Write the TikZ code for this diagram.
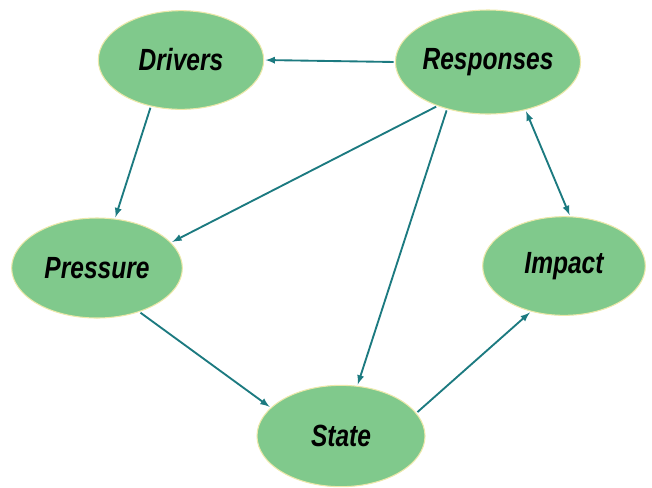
\documentclass[tikz,border=0pt]{standalone}
\usepackage{fontspec}
\usepackage{xcolor}
\usetikzlibrary{shapes.geometric}
\newfontfamily\lblfont[FakeStretch=0.8]{Liberation Sans}

\definecolor{ovalgreen}{RGB}{128,201,140}
\definecolor{ovalrim}{RGB}{236,232,170}
\definecolor{linkteal}{RGB}{28,122,128}

\begin{document}
\begin{tikzpicture}[x=0.75pt,y=-0.75pt,>=latex,
		oval/.style={ellipse, fill=ovalgreen, draw=ovalrim, line width=0.8pt,
			minimum width=124pt, minimum height=74pt, inner sep=0pt,
			font=\lblfont\bfseries\itshape\fontsize{23}{26}\selectfont},
		link/.style={->, linkteal, line width=1.4pt, shorten >=1pt, shorten <=1pt}]
	\useasboundingbox (0,0) rectangle (652,487);

	% the five ovals
	\node[oval] (drv) at (181,60) {Drivers};
	\node[oval, minimum width=126pt, minimum height=78pt] (rsp) at (488,62) {Responses};
	\node[oval, minimum width=128pt, minimum height=75pt] (prs) at (97,268) {Pressure};
	\node[oval, minimum width=122pt] (imp) at (564,266) {Impact};
	\node[oval, minimum width=126pt, minimum height=76pt] (sta) at (341,436) {State};

	% links between them
	\draw[link] (rsp.west) -- (drv.east);
	\draw[link] (drv.237) -- (prs.70);
	\draw[link] (rsp.221) -- (prs.19);
	\draw[link] (rsp.229) -- (sta.72);
	\draw[link,<->] (rsp.308) -- (imp.83);
	\draw[link] (prs.314) -- (sta.158);
	\draw[link] (sta.17) -- (imp.234);
\end{tikzpicture}
\end{document}
